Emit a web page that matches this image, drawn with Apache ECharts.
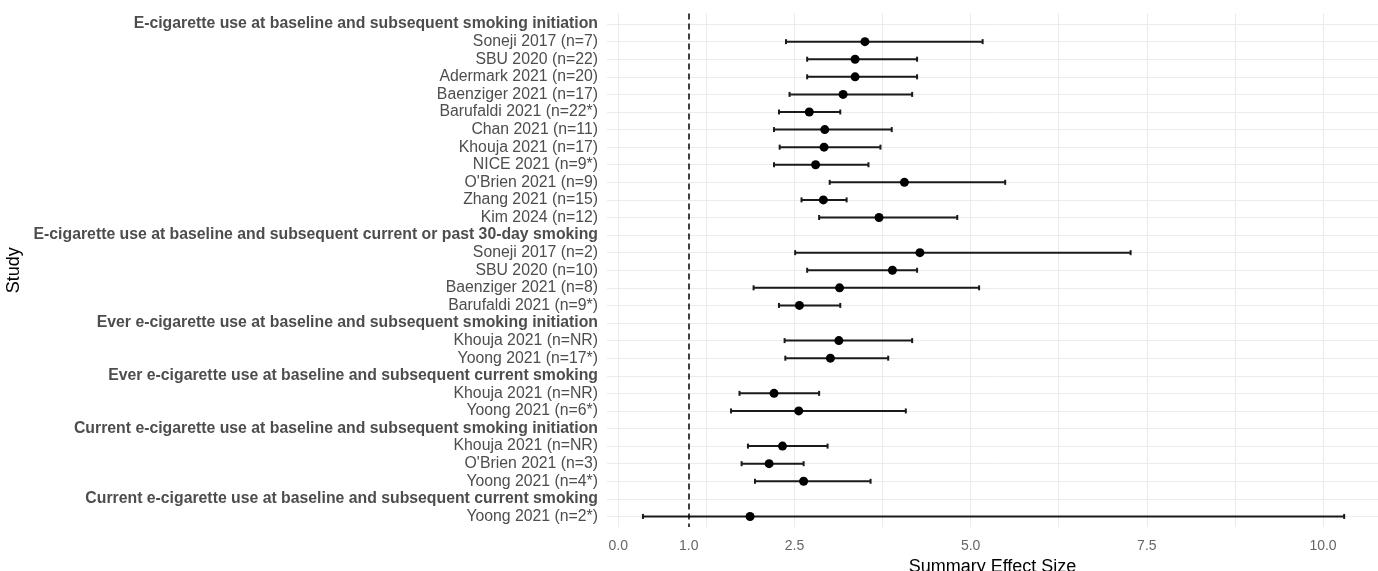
<!DOCTYPE html>
<html>
<head>
<meta charset="utf-8">
<script src="https://cdn.jsdelivr.net/npm/echarts@6/dist/echarts.min.js"></script>
<style>
  html, body { margin: 0; padding: 0; background: #fff; }
  #main { width: 1378px; height: 571px; }
</style>
</head>
<body>
<div id="main"></div>
<script>
// rows from top to bottom; header rows carry no estimate
var studies = [
  'E-cigarette use at baseline and subsequent smoking initiation',
  'Soneji 2017 (n=7)', 'SBU 2020 (n=22)', 'Adermark 2021 (n=20)', 'Baenziger 2021 (n=17)',
  'Barufaldi 2021 (n=22*)', 'Chan 2021 (n=11)', 'Khouja 2021 (n=17)', 'NICE 2021 (n=9*)',
  "O'Brien 2021 (n=9)", 'Zhang 2021 (n=15)', 'Kim 2024 (n=12)',
  'E-cigarette use at baseline and subsequent current or past 30-day smoking',
  'Soneji 2017 (n=2)', 'SBU 2020 (n=10)', 'Baenziger 2021 (n=8)', 'Barufaldi 2021 (n=9*)',
  'Ever e-cigarette use at baseline and subsequent smoking initiation',
  'Khouja 2021 (n=NR)', 'Yoong 2021 (n=17*)',
  'Ever e-cigarette use at baseline and subsequent current smoking',
  'Khouja 2021 (n=NR)', 'Yoong 2021 (n=6*)',
  'Current e-cigarette use at baseline and subsequent smoking initiation',
  'Khouja 2021 (n=NR)', "O'Brien 2021 (n=3)", 'Yoong 2021 (n=4*)',
  'Current e-cigarette use at baseline and subsequent current smoking',
  'Yoong 2021 (n=2*)'
];
var isHeader = [
  true, false, false, false, false, false, false, false, false, false, false, false,
  true, false, false, false, false,
  true, false, false,
  true, false, false,
  true, false, false, false,
  true, false
];
var estimate = [
  null, 3.50, 3.36, 3.36, 3.19, 2.71, 2.93, 2.92, 2.80, 4.06, 2.91, 3.70,
  null, 4.28, 3.89, 3.14, 2.57,
  null, 3.13, 3.01,
  null, 2.21, 2.56,
  null, 2.33, 2.14, 2.63,
  null, 1.87
];
var lower = [
  null, 2.38, 2.68, 2.68, 2.43, 2.28, 2.21, 2.29, 2.21, 3.00, 2.60, 2.85,
  null, 2.51, 2.68, 1.92, 2.28,
  null, 2.36, 2.37,
  null, 1.72, 1.60,
  null, 1.84, 1.75, 1.94,
  null, 0.35
];
var upper = [
  null, 5.17, 4.24, 4.24, 4.17, 3.15, 3.88, 3.72, 3.55, 5.49, 3.24, 4.81,
  null, 7.27, 4.24, 5.12, 3.15,
  null, 4.17, 3.83,
  null, 2.85, 4.08,
  null, 2.97, 2.63, 3.58,
  null, 10.30
];
var xLabelTicks = [0, 1, 2.5, 5, 7.5, 10];
var xGridTicks = [0, 1.25, 2.5, 3.75, 5, 6.25, 7.5, 8.75, 10];
var refValue = 1;

var font = 'Liberation Sans, Arial, sans-serif';
var rowIdx = studies.map(function (s, i) { return i; });

var points = [];
var bars = [];
for (var i = 0; i < studies.length; i++) {
  if (estimate[i] == null) continue;
  points.push([estimate[i], i]);
  bars.push([i, lower[i], upper[i]]);
}

var chart = echarts.init(document.getElementById('main'));
var option = {
  animation: false,
  grid: { left: 607, right: 0, top: 13.5, bottom: 44, outerBoundsMode: 'none', containLabel: false },
  xAxis: {
    type: 'value',
    min: -0.16,
    max: 10.78,
    name: 'Summary Effect Size',
    nameLocation: 'middle',
    nameGap: 28,
    nameTextStyle: { fontFamily: font, fontSize: 18, color: '#000' },
    axisLine: { show: false },
    axisTick: { show: false, customValues: xGridTicks },
    axisLabel: {
      customValues: xLabelTicks,
      formatter: function (v) { return v.toFixed(1); },
      fontFamily: font, fontSize: 14, color: '#666', margin: 12
    },
    splitLine: { show: true, lineStyle: { color: '#ebebeb', width: 1 } }
  },
  yAxis: {
    type: 'value',
    inverse: true,
    min: -0.6,
    max: studies.length - 1 + 0.6,
    name: 'Study',
    nameLocation: 'middle',
    nameGap: 572,
    nameTextStyle: { fontFamily: font, fontSize: 18, color: '#000' },
    axisLine: { show: false },
    axisTick: { show: false, customValues: rowIdx },
    axisLabel: {
      customValues: rowIdx,
      margin: 9,
      formatter: function (v) {
        var k = Math.round(v);
        return isHeader[k] ? '{h|' + studies[k] + '}' : '{n|' + studies[k] + '}';
      },
      rich: {
        h: { fontFamily: font, fontSize: 15.8, fontWeight: 'bold', color: '#4d4d4d' },
        n: { fontFamily: font, fontSize: 15.8, color: '#4d4d4d' }
      }
    },
    splitLine: { show: true, lineStyle: { color: '#ebebeb', width: 1 } }
  },
  series: [
    {
      type: 'custom',
      data: bars,
      encode: { x: [1, 2], y: 0 },
      renderItem: function (params, api) {
        var y = api.value(0);
        var p1 = api.coord([api.value(1), y]);
        var p2 = api.coord([api.value(2), y]);
        var cap = 2.5;
        var st = { stroke: '#1a1a1a', lineWidth: 2 };
        return {
          type: 'group',
          children: [
            { type: 'line', shape: { x1: p1[0], y1: p1[1], x2: p2[0], y2: p2[1] }, style: st },
            { type: 'line', shape: { x1: p1[0], y1: p1[1] - cap, x2: p1[0], y2: p1[1] + cap }, style: st },
            { type: 'line', shape: { x1: p2[0], y1: p2[1] - cap, x2: p2[0], y2: p2[1] + cap }, style: st }
          ]
        };
      },
      markLine: {
        silent: true,
        symbol: 'none',
        label: { show: false },
        lineStyle: { color: '#000', type: [6, 4], width: 1.5 },
        data: [{ xAxis: refValue }]
      },
      z: 2
    },
    {
      type: 'scatter',
      data: points,
      symbol: 'circle',
      symbolSize: 9,
      itemStyle: { color: '#000', opacity: 1 },
      z: 3
    }
  ]
};
chart.setOption(option);
</script>
</body>
</html>
